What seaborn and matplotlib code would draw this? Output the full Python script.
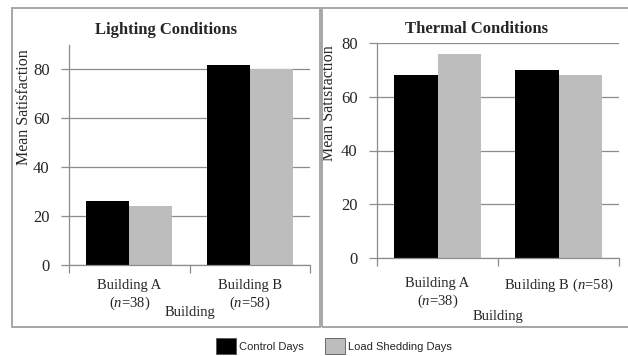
import matplotlib
matplotlib.use("Agg")
import matplotlib.pyplot as plt
from matplotlib.patches import Rectangle
import pandas as pd
import seaborn as sns

# Survey results: mean satisfaction per building and day type
buildings_lighting = ["Building A\n($\\mathit{n}$=38)", "Building B\n($\\mathit{n}$=58)"]
buildings_thermal = ["Building A\n($\\mathit{n}$=38)", "Building B ($\\mathit{n}$=58)"]
day_types = ["Control Days", "Load Shedding Days"]
lighting_control = [26, 82]
lighting_shedding = [24, 80]
thermal_control = [68, 70]
thermal_shedding = [76, 68]
colors = ["#000000", "#bdbdbd"]


def long_table(cats, control, shedding):
    return pd.DataFrame({
        "Building": cats * 2,
        "Day": [day_types[0]] * len(cats) + [day_types[1]] * len(cats),
        "Satisfaction": list(control) + list(shedding),
    })


sns.set_theme(style="white")
plt.rcParams["font.family"] = ["Liberation Serif", "DejaVu Serif"]
plt.rcParams["mathtext.fontset"] = "custom"
plt.rcParams["mathtext.rm"] = "Liberation Serif"
plt.rcParams["mathtext.it"] = "Liberation Serif:italic"

W, H = 628, 356
fig = plt.figure(figsize=(W / 100, H / 100), dpi=100)
fig.patch.set_facecolor("white")

# Panel frames
frame_col = "#a6a6a6"
for x0, x1 in [(12, 319.5), (322, 632)]:
    fig.patches.append(Rectangle((x0 / W, (H - 326.5) / H), (x1 - x0) / W, (326.5 - 8) / H,
                                 transform=fig.transFigure, fill=False,
                                 edgecolor=frame_col, linewidth=1.4))

axis_col = "#8c8c8c"


def style_axes(ax, ymax, ticks, xpad):
    ax.set_ylim(0, ymax)
    ax.set_xlim(-0.5, 1.5)
    ax.set_yticks(ticks)
    ax.yaxis.grid(True, color=axis_col, linewidth=0.9)
    ax.xaxis.grid(False)
    ax.set_axisbelow(True)
    for s in ["top", "right"]:
        ax.spines[s].set_visible(False)
    for s in ["left", "bottom"]:
        ax.spines[s].set_color(axis_col)
        ax.spines[s].set_linewidth(0.9)
    ax.tick_params(axis="y", which="major", left=True, length=6, width=0.9,
                   color=axis_col, labelsize=12, pad=8)
    ax.set_xticks([-0.5, 0.5, 1.5], minor=True)
    ax.tick_params(axis="x", which="minor", bottom=True, length=6, width=0.9, color=axis_col)
    ax.tick_params(axis="x", which="major", bottom=False, labelsize=10.5, pad=xpad)
    ax.set_ylabel("Mean Satisfaction", fontsize=11.5)


bar_kw = dict(x="Building", y="Satisfaction", hue="Day", palette=colors,
              saturation=1, linewidth=0, edgecolor="none")

# Lighting panel
ax1 = fig.add_axes([69 / W, (H - 265) / H, 241 / W, 220 / H])
sns.barplot(data=long_table(buildings_lighting, lighting_control, lighting_shedding),
            width=0.715, ax=ax1, legend=True, **bar_kw)
style_axes(ax1, 90, [0, 20, 40, 60, 80], 4)
ax1.set_xlabel("Building", fontsize=10.5, labelpad=-4)
ax1.yaxis.set_label_coords((32 - 69) / 241, (265 - 107.5) / 220)
handles, labels = ax1.get_legend_handles_labels()
ax1.get_legend().remove()
fig.text(165.5 / W, (H - 30) / H, "Lighting Conditions", ha="center", va="center",
         fontsize=12, fontweight="bold")

# Thermal panel
ax2 = fig.add_axes([377 / W, (H - 257.7) / H, 242 / W, 214.4 / H])
sns.barplot(data=long_table(buildings_thermal, thermal_control, thermal_shedding),
            width=0.725, ax=ax2, legend=False, **bar_kw)
style_axes(ax2, 80, [0, 20, 40, 60, 80], 8)
ax2.set_xlabel("Building", fontsize=10.5, labelpad=0)
ax2.yaxis.set_label_coords((337 - 377) / 242, (257.7 - 103) / 214.4)
fig.text(476.5 / W, (H - 29) / H, "Thermal Conditions", ha="center", va="center",
         fontsize=12, fontweight="bold")

# Shared legend along the bottom
for h in handles:
    h.set_edgecolor("#555555")
    h.set_linewidth(0.6)
fig.legend(handles, labels, loc="center", bbox_to_anchor=(334 / W, (H - 346) / H), ncol=2,
           frameon=False, prop={"family": "Liberation Sans", "size": 8},
           handlelength=1.8, handleheight=1.8, handletextpad=0.3, columnspacing=1.9,
           borderpad=0, borderaxespad=0)

fig.savefig("out.png", dpi=100, facecolor="white")
